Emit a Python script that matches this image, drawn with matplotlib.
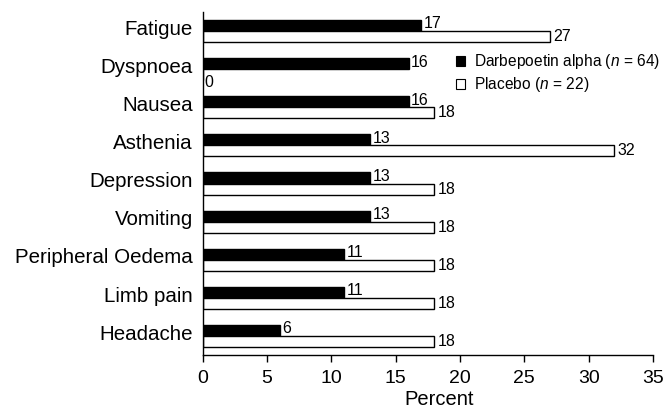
import matplotlib
matplotlib.use("Agg")
import matplotlib.pyplot as plt
import numpy as np
from matplotlib.patches import Patch

plt.rcParams['font.family'] = ['Liberation Sans', 'DejaVu Sans']
plt.rcParams['mathtext.fontset'] = 'custom'
plt.rcParams['mathtext.rm'] = 'Liberation Sans'
plt.rcParams['mathtext.it'] = 'Liberation Sans:italic'

categories = ["Fatigue", "Dyspnoea", "Nausea", "Asthenia", "Depression",
              "Vomiting", "Peripheral Oedema", "Limb pain", "Headache"]
darbepoetin = [17, 16, 16, 13, 13, 13, 11, 11, 6]
placebo = [27, 0, 18, 32, 18, 18, 18, 18, 18]
xticks = [0, 5, 10, 15, 20, 25, 30, 35]

fig = plt.figure(figsize=(6.67, 4.11), dpi=100)
ax = fig.add_axes([0.304, 0.136, 0.675, 0.835])

n = len(categories)
pos = np.arange(n)
h = 0.29
ax.barh(pos - h / 2, darbepoetin, height=h, color='black', edgecolor='black', linewidth=1)
ax.barh(pos + h / 2, placebo, height=h, color='white', edgecolor='black', linewidth=1)

vfs = 11.5
for i in range(n):
    ax.text(darbepoetin[i] + 0.2, pos[i] - h / 2 - 0.04, str(darbepoetin[i]),
            va='center', ha='left', fontsize=vfs)
    if placebo[i] > 0:
        ax.text(placebo[i] + 0.25, pos[i] + h / 2, str(placebo[i]),
                va='center', ha='left', fontsize=vfs)
    else:
        ax.text(0.1, pos[i] + h / 2 + 0.2, str(placebo[i]),
                va='center', ha='left', fontsize=vfs)

ax.set_ylim(n - 0.5, -0.5)
ax.set_xlim(0, 35)
ax.set_yticks(pos - 0.1)
ax.set_yticklabels(categories, fontsize=14.8)
ax.tick_params(axis='y', length=0, pad=7)
ax.set_xticks(xticks)
ax.set_xticklabels([str(t) for t in xticks], fontsize=14)
ax.tick_params(axis='x', length=5, width=1, direction='out', pad=6)
ax.set_xlabel("Percent", fontsize=14.5, labelpad=2)
ax.xaxis.label.set_x(0.524)

for s in ['top', 'right']:
    ax.spines[s].set_visible(False)
for s in ['left', 'bottom']:
    ax.spines[s].set_linewidth(1)

handles = [Patch(facecolor='black', edgecolor='black', linewidth=0.8),
           Patch(facecolor='white', edgecolor='black', linewidth=0.8)]
labels = [r"Darbepoetin alpha ($n$ = 64)", r"Placebo ($n$ = 22)"]
ax.legend(handles, labels, loc='upper left', bbox_to_anchor=(0.548, 0.90),
          frameon=False, fontsize=11.2, handlelength=0.6, handleheight=0.6,
          handletextpad=0.6, labelspacing=0.25, borderaxespad=0)

fig.savefig("out.png", dpi=100)
